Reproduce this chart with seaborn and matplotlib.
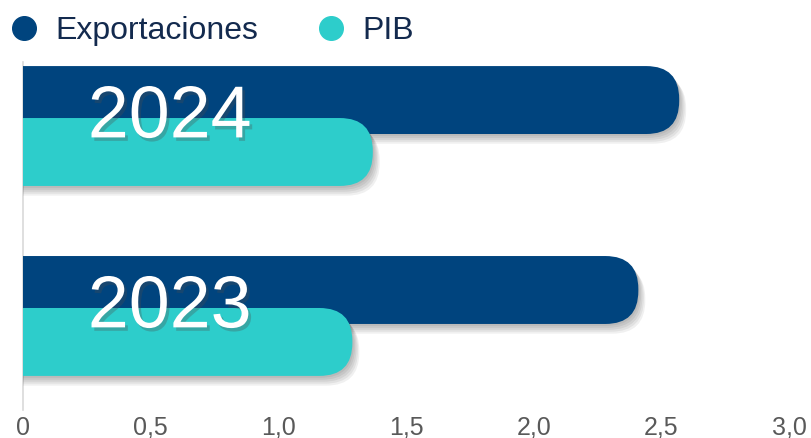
import numpy as np
import pandas as pd
import matplotlib
matplotlib.use("Agg")
import matplotlib.pyplot as plt
import matplotlib.patheffects as pe
from matplotlib.patches import FancyBboxPatch
from matplotlib.lines import Line2D
import seaborn as sns

# datos
anios = ["2024", "2023"]
series = ["Exportaciones", "PIB"]
exportaciones = [2.57, 2.41]
pib = [1.37, 1.29]
ticks = [0, 0.5, 1.0, 1.5, 2.0, 2.5, 3.0]
tick_labels = ["0", "0,5", "1,0", "1,5", "2,0", "2,5", "3,0"]
colores = ["#00447E", "#2DCDCB"]

df = pd.DataFrame({
    "anio": anios * 2,
    "serie": [series[0]] * 2 + [series[1]] * 2,
    "valor": exportaciones + pib,
})

sns.set_style("white")
plt.rcParams["font.family"] = ["Liberation Sans", "DejaVu Sans"]

fig = plt.figure(figsize=(8.12, 4.38), dpi=100)
W, H = 812, 438
ax = fig.add_axes([23 / W, 1 - 410 / H, (789 - 23) / W, (410 - 62) / H])

sns.barplot(data=df, x="valor", y="anio", hue="serie", order=anios,
            hue_order=series, palette=colores, orient="h", width=0.547,
            errorbar=None, legend=False, ax=ax)

ax.set_xlim(0, 3)
ax.set_ylim(1.495, -0.337)

# escala en pixeles para redondear los extremos
o = ax.transData.transform((0, 0))
px = abs(ax.transData.transform((1, 0))[0] - o[0])
py = abs(ax.transData.transform((0, 1))[1] - o[1])
asp = px / py
r = 33 / px

sombra = [pe.SimplePatchShadow(offset=(d, -1.4 * d), shadow_rgbFace="k", alpha=0.06)
          for d in (1, 2, 3, 4, 5)] + [pe.Normal()]

for i, cont in enumerate(ax.containers):
    for p in list(cont.patches):
        yc = p.get_y() + p.get_height() / 2
        h = p.get_height() * 68 / 52
        w = p.get_width()
        p.set_visible(False)
        box = FancyBboxPatch((-0.3, yc - h / 2), w + 0.3, h,
                             boxstyle=f"round,pad=0,rounding_size={r}",
                             mutation_aspect=asp, facecolor=colores[i],
                             edgecolor="none", zorder=2 + i)
        box.set_path_effects(sombra)
        ax.add_patch(box)

for k, a in enumerate(anios):
    ax.text(0.575, k + 0.06, a, color="white", fontsize=53, ha="center",
            va="baseline", zorder=5,
            path_effects=[pe.withSimplePatchShadow(offset=(2, -2.5), alpha=0.3)])

ax.set_xticks(ticks)
ax.set_xticklabels(tick_labels)
ax.tick_params(axis="x", length=0, pad=4, labelsize=18, labelcolor="#595959")
ax.set_yticks([])
ax.set_xlabel("")
ax.set_ylabel("")
for s in ["top", "right", "bottom"]:
    ax.spines[s].set_visible(False)
ax.spines["left"].set_color("#d9d9d9")
ax.spines["left"].set_linewidth(1.2)
ax.spines["left"].set_zorder(1)

handles = [Line2D([], [], marker="o", linestyle="", markersize=17,
                  markerfacecolor=c, markeredgecolor=c) for c in colores]
fig.legend(handles, series, loc="center left", bbox_to_anchor=(8 / W, 1 - 31 / H),
           ncol=2, frameon=False, fontsize=23, handlelength=1.0, handletextpad=0.47,
           columnspacing=1.8, borderpad=0, borderaxespad=0, labelcolor="#132a4e")

fig.savefig("out.png", dpi=100)
